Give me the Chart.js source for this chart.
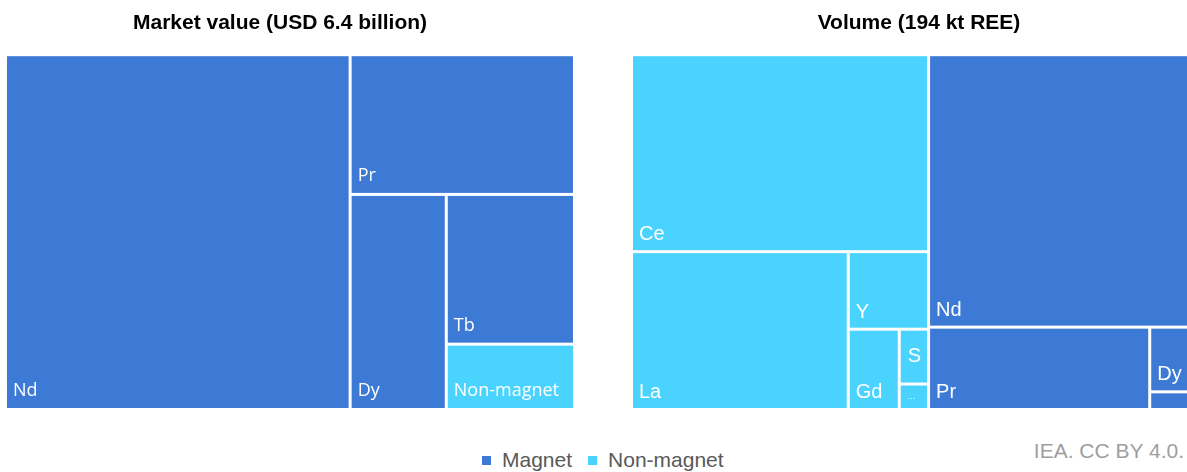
<!DOCTYPE html>
<html><head><meta charset="utf-8">
<script src="https://cdn.jsdelivr.net/npm/chart.js@4.4.1/dist/chart.umd.min.js"></script>
<style>
html,body{margin:0;padding:0;background:#fff;width:1187px;height:472px;overflow:hidden;position:relative;font-family:'Liberation Sans',Arial,sans-serif;}
.wrap{position:absolute;top:0;}
#legend{position:absolute;left:482px;top:448px;display:flex;align-items:center;font-size:21px;line-height:24px;color:#595959;white-space:nowrap;}
.sw{display:inline-block;width:9px;height:9px;margin-right:11px;}
#source{position:absolute;right:3px;top:439px;font-size:21px;line-height:24px;color:#9e9e9e;}
</style></head><body>
<div class="wrap" style="left:0;width:580px;height:420px"><canvas id="c1" width="580" height="420"></canvas></div>
<div class="wrap" style="left:626px;width:561px;height:420px"><canvas id="c2" width="561" height="420"></canvas></div>
<div id="legend"><span class="sw" style="background:#3D7AD5"></span><span style="margin-right:16px">Magnet</span><span class="sw" style="background:#4AD3FF"></span><span>Non-magnet</span></div>
<div id="source">IEA. CC BY 4.0.</div>
<script>
// ---- Data ----
const groupNames = ['Magnet', 'Non-magnet'];
const groupColors = ['#3D7AD5', '#4AD3FF'];

// Market value (USD billion), total 6.4
const valueTitle = 'Market value (USD 6.4 billion)';
const valueLabels = ['Nd', 'Pr', 'Dy', 'Tb', 'Non-magnet'];
const valueAmounts = [3.88, 0.99, 0.66, 0.61, 0.26];
const valueGroups = ['Magnet', 'Magnet', 'Magnet', 'Magnet', 'Non-magnet'];

// Volume (kt REE), total 194
const volumeTitle = 'Volume (194 kt REE)';
const volumeGroupOrder = ['Non-magnet', 'Magnet'];
const volumeLabels = ['Ce', 'La', 'Y', 'Gd', 'Sm', 'Other', 'Nd', 'Pr', 'Dy', 'Tb'];
const volumeAmounts = [57.5, 33.5, 6.2, 4.0, 1.6, 0.7, 69.7, 17.8, 2.4, 0.6];
const volumeGroups = ['Non-magnet', 'Non-magnet', 'Non-magnet', 'Non-magnet', 'Non-magnet', 'Non-magnet', 'Magnet', 'Magnet', 'Magnet', 'Magnet'];

const colorOf = g => groupColors[groupNames.indexOf(g)];

const valueTree = valueLabels.map((l, i) => ({label: l, value: valueAmounts[i], color: colorOf(valueGroups[i])}));
const volumeTree = volumeGroupOrder.map(g => {
  const children = volumeLabels.map((l, i) => ({label: l, value: volumeAmounts[i], color: colorOf(volumeGroups[i]), g: volumeGroups[i]}))
    .filter(c => c.g === g);
  return {label: g, value: children.reduce((s, c) => s + c.value, 0), children};
});

// ---- Layout: each node takes a strip along the shorter side of the remaining area ----
function sliceLayout(nodes, x0, y0, x1, y1, sx, sy, out) {
  let total = nodes.reduce((s, n) => s + n.value, 0);
  for (let i = 0; i < nodes.length; i++) {
    const n = nodes[i];
    const w = (x1 - x0) * sx, h = (y1 - y0) * sy;
    let r;
    if (i === nodes.length - 1) r = {x0, y0, x1, y1};
    else if (w >= h) { const cx = x0 + (x1 - x0) * n.value / total; r = {x0, y0, x1: cx, y1}; x0 = cx; }
    else { const cy = y0 + (y1 - y0) * n.value / total; r = {x0, y0, x1, y1: cy}; y0 = cy; }
    total -= n.value;
    if (n.children) sliceLayout(n.children, r.x0, r.y0, r.x1, r.y1, sx, sy, out);
    else out.push(Object.assign({}, n, r));
  }
}

const treemapPlugin = {
  id: 'treemapCells',
  afterLayout(chart) {
    const o = chart.options.plugins.treemapCells;
    if (chart.titleBlock && o.titleShift) {
      chart.titleBlock.left += o.titleShift;
      chart.titleBlock.right += o.titleShift;
    }
  },
  afterDatasetsDraw(chart) {
    const xs = chart.scales.x, ys = chart.scales.y, ca = chart.chartArea;
    const o = chart.options.plugins.treemapCells;
    const ctx = chart.ctx;
    chart.data.datasets.forEach(ds => {
      if (!ds.tree) return;
      const cells = [];
      sliceLayout(ds.tree, 0, 0, 1, 1, ca.right - ca.left, ca.bottom - ca.top, cells);
      ctx.save();
      cells.forEach(c => {
        let L = xs.getPixelForValue(c.x0), R = xs.getPixelForValue(c.x1);
        let T = ys.getPixelForValue(c.y0), B = ys.getPixelForValue(c.y1);
        const g = o.gap / 2, e = 1e-6;
        if (c.x0 > e) L += g; if (c.x1 < 1 - e) R -= g;
        if (c.y0 > e) T += g; if (c.y1 < 1 - e) B -= g;
        ctx.fillStyle = c.color;
        ctx.fillRect(L, T, R - L, B - T);
        const w = R - L, h = B - T, pad = 6;
        ctx.fillStyle = '#ffffff';
        ctx.textAlign = 'left';
        if (h < 20) return;
        if (h < 30) {
          ctx.font = `9px ${o.fontFamily}`;
          ctx.textBaseline = 'middle';
          ctx.fillText('...', L + pad + 1, (T + B) / 2);
          return;
        }
        ctx.font = `${o.fontSize}px ${o.fontFamily}`;
        let t = c.label;
        if (ctx.measureText(t).width + pad > w) {
          while (t.length > 1 && ctx.measureText(t).width + pad > w) t = t.slice(0, -1);
          ctx.textBaseline = 'middle';
          ctx.fillText(t, L + pad + 1, (T + B) / 2);
        } else {
          ctx.textBaseline = 'alphabetic';
          ctx.fillText(t, L + pad, B - o.baseline);
        }
      });
      ctx.restore();
    });
  }
};

function makeChart(id, title, tree, labelOpts, padding) {
  return new Chart(document.getElementById(id), {
    type: 'scatter',
    data: {datasets: [{data: [], tree, pointRadius: 0}]},
    options: {
      responsive: false, animation: false, devicePixelRatio: 1,
      layout: {padding},
      scales: {
        x: {type: 'linear', min: 0, max: 1, display: false},
        y: {type: 'linear', min: 0, max: 1, reverse: true, display: false}
      },
      plugins: {
        legend: {display: false},
        tooltip: {enabled: false},
        title: {display: true, text: title, color: '#000000',
          font: {family: "'Liberation Sans', Arial, sans-serif", size: 21, weight: 'bold', lineHeight: 1.2},
          padding: {top: 11, bottom: 20}},
        treemapCells: labelOpts
      }
    },
    plugins: [treemapPlugin]
  });
}

makeChart('c1', valueTitle, valueTree,
  {gap: 3, fontSize: 18, fontFamily: "'Open Sans', sans-serif", baseline: 12, titleShift: -10},
  {left: 7, right: 7, top: 0, bottom: 12});
makeChart('c2', volumeTitle, volumeTree,
  {gap: 3, fontSize: 20, fontFamily: "'Liberation Sans', Arial, sans-serif", baseline: 10, titleShift: 9},
  {left: 7, right: 0, top: 0, bottom: 12});
</script>
</body></html>
